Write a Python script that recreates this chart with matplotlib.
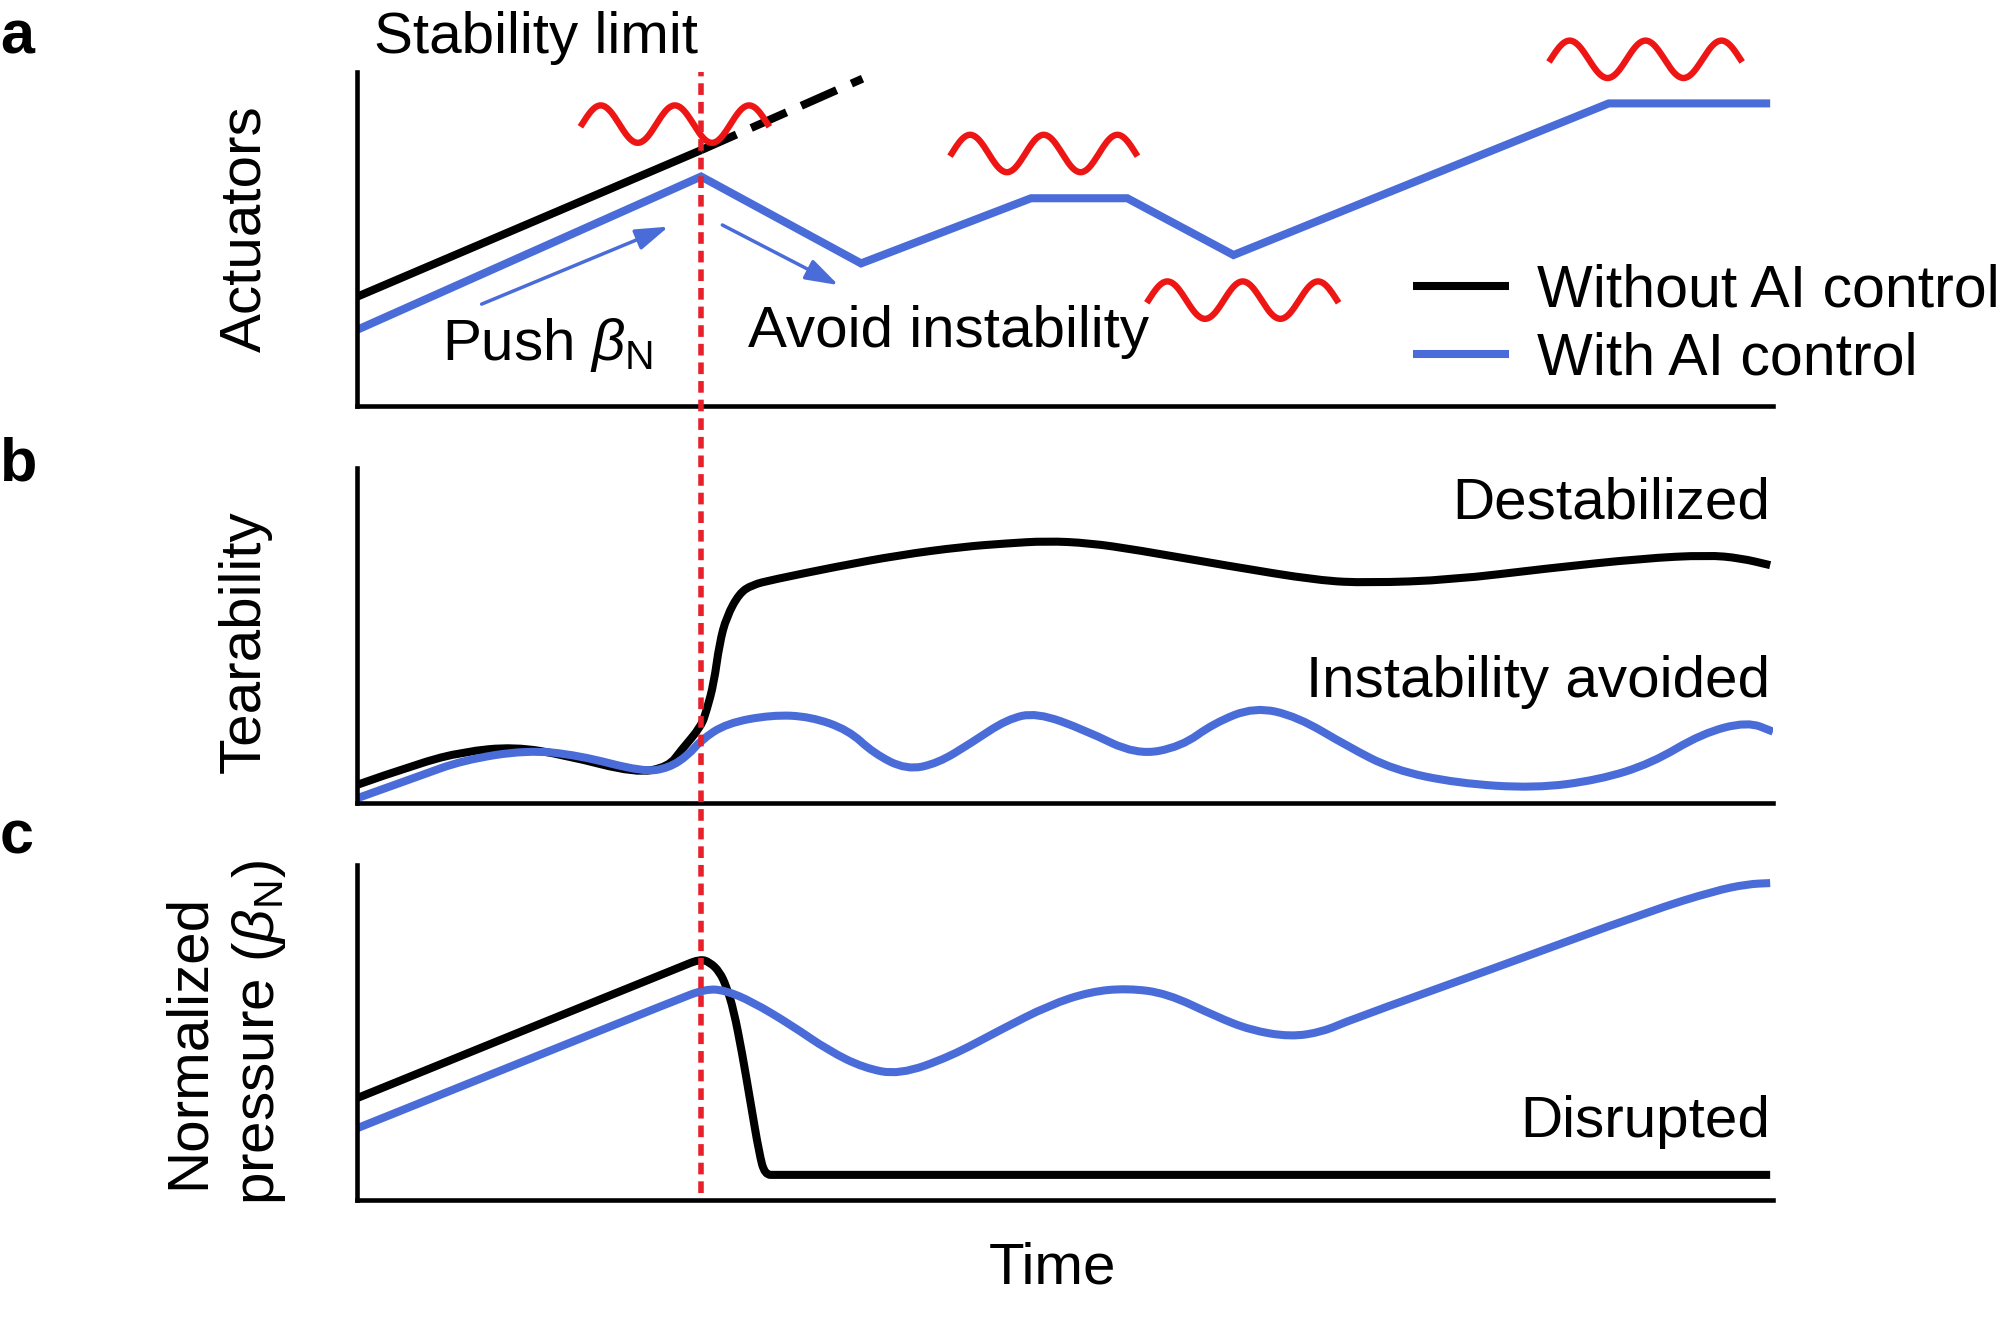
import numpy as np
import matplotlib
matplotlib.use("Agg")
import matplotlib.pyplot as plt
import matplotlib.transforms as mtransforms
from matplotlib.lines import Line2D
from matplotlib.patches import FancyArrowPatch, PathPatch
from matplotlib.path import Path

plt.rcParams["font.family"] = ["Liberation Sans", "DejaVu Sans"]
plt.rcParams["mathtext.fontset"] = "custom"
plt.rcParams["mathtext.rm"] = "Liberation Sans"
plt.rcParams["mathtext.it"] = "Liberation Sans:italic"

# ---- values (time and each panel's y run 0..100) ----
limit_t = 24.3  # stability limit

# a: actuators (piecewise linear)
act_black_t = [0, 24.3]
act_black = [32.7, 76.6]
act_black_dash_t = [24.3, 35.7]
act_black_dash = [76.6, 98.0]
act_blue_t = [0, 24.3, 35.6, 47.6, 54.4, 61.9, 88.4, 99.8]
act_blue = [22.8, 68.7, 42.7, 62.2, 62.2, 45.2, 90.6, 90.6]

# red squiggles marking instabilities: start, end, centre height
wiggle_t0 = [15.9, 42.0, 55.9, 84.3]
wiggle_t1 = [29.0, 55.0, 69.2, 97.7]
wiggle_y = [84.4, 75.6, 31.7, 103.8]

# b: tearability
tear_black_t = [0, 4.3, 7.5, 11.1, 14.7, 19.7, 22.0, 22.9, 24.3, 24.7,
                25.2, 25.6, 26.1, 27.0, 27.9, 29.3, 33.8, 38.3, 42.8, 45.9,
                48.7, 51.7, 55.0, 61.5, 67.9, 71.4, 77.3, 84.0, 90.8, 95.4,
                97.7, 99.8]
tear_black = [5.4, 11.8, 15.3, 16.8, 14.3, 8.9, 10.8, 15.8, 22.8, 27.8,
              35.7, 47.7, 55.6, 62.6, 65.1, 66.6, 70.5, 74.0, 76.5, 77.5,
              78.2, 77.6, 75.6, 70.8, 66.4, 65.7, 66.6, 70.0, 73.0, 74.0,
              73.1, 71.0]
tear_blue_t = [0, 4.3, 7.5, 12.0, 15.6, 20.2, 22.0, 23.4, 24.3, 26.1,
               29.3, 32.0, 34.7, 36.5, 38.8, 41.0, 43.4, 45.9, 48.0, 51.4,
               55.05, 58.2, 60.5, 63.4, 66.4, 70.0, 73.2, 77.7, 83.2, 87.7,
               91.4, 95.0, 98.2, 100]
tear_blue = [1.4, 7.9, 12.8, 15.8, 14.3, 9.3, 10.4, 14.3, 18.8, 23.8,
             26.3, 25.8, 21.8, 14.8, 9.9, 11.8, 18.0, 25.0, 27.0, 21.8,
             14.3, 16.8, 23.8, 28.7, 25.8, 16.8, 9.9, 5.9, 4.4, 6.9,
             11.8, 20.8, 24.3, 21.3]

# c: normalized pressure
press_black_t = [0, 23.0, 24.25, 24.9, 25.6, 26.1, 26.6, 27.2, 27.8, 28.4,
                 28.8, 29.6, 99.8]
press_black = [30.4, 69.9, 71.9, 71.0, 68.2, 63.6, 56.7, 43.8, 28.9, 14.0,
               7.5, 7.5, 7.5]
press_blue_t = [0, 12.0, 22.5, 24.6, 26.0, 27.9, 30.6, 33.3, 35.8, 38.3,
                41.9, 45.4, 48.9, 51.8, 54.4, 57.2, 60.7, 63.1, 65.9, 68.2,
                70.1, 80.0, 91.4, 95.9, 98.2, 99.8]
press_blue = [21.4, 41.8, 59.6, 63.0, 62.6, 59.2, 52.4, 44.6, 39.4, 37.4,
              42.8, 50.7, 58.2, 62.2, 63.2, 61.7, 54.7, 50.7, 48.7, 50.2,
              53.7, 68.7, 86.4, 92.3, 94.3, 94.6]

series_labels = ["Without AI control", "With AI control"]

# ---- style ----
BLUE = "#4a6cd9"
RED = "#ee1515"
FS = 42
LW = 5.8


def smooth(ax, t, y, color):
    # quadratic b-spline through the read points, drawn as one path
    pts = np.column_stack([t, y])
    verts, codes = [pts[0]], [Path.MOVETO]
    for i in range(1, len(pts) - 1):
        verts += [pts[i], (pts[i] + pts[i + 1]) / 2]
        codes += [Path.CURVE3, Path.CURVE3]
    verts.append(pts[-1])
    codes.append(Path.LINETO)
    ax.add_patch(PathPatch(Path(verts, codes), fill=False, edgecolor=color,
                           lw=LW, capstyle="butt", joinstyle="round"))


fig = plt.figure(figsize=(20.16, 13.34), dpi=100)
left, width = 357 / 2016, 1416 / 2016
ax_a = fig.add_axes([left, 1 - 406 / 1334, width, 334 / 1334])
ax_b = fig.add_axes([left, 1 - 803 / 1334, width, 335 / 1334])
ax_c = fig.add_axes([left, 1 - 1200 / 1334, width, 335 / 1334])

for ax in (ax_a, ax_b, ax_c):
    ax.set_xlim(0, 100)
    ax.set_ylim(0, 100)
    ax.set_xticks([])
    ax.set_yticks([])
    for side in ("top", "right"):
        ax.spines[side].set_visible(False)
    for side in ("left", "bottom"):
        ax.spines[side].set_linewidth(3.3)
        ax.spines[side].set_capstyle("projecting")

# panel a
ax_a.plot(act_black_t, act_black, color="black", lw=LW, solid_capstyle="butt")
ax_a.plot(act_black_dash_t, act_black_dash, color="black", lw=LW,
          linestyle=(0, (4.8, 2.0)), dash_capstyle="butt")
ax_a.plot(act_blue_t, act_blue, color=BLUE, lw=LW, solid_capstyle="butt",
          solid_joinstyle="miter")

theta = np.linspace(-0.5 * np.pi, 4.5 * np.pi, 200)  # squiggle glyph
for t0, t1, yc in zip(wiggle_t0, wiggle_t1, wiggle_y):
    xs = t0 + (theta - theta[0]) / (theta[-1] - theta[0]) * (t1 - t0)
    ax_a.plot(xs, yc + 5.6 * np.cos(theta), color=RED, lw=4.6,
              clip_on=False, zorder=5)

arrow = "-|>,head_length=0.8,head_width=0.26"
ax_a.add_patch(FancyArrowPatch((8.8, 30.5), (22.0, 53.7), arrowstyle=arrow,
                               mutation_scale=25, lw=2.5, color=BLUE,
                               shrinkA=0, shrinkB=0))
ax_a.add_patch(FancyArrowPatch((25.8, 54.2), (34.0, 36.2), arrowstyle=arrow,
                               mutation_scale=25, lw=2.5, color=BLUE,
                               shrinkA=0, shrinkB=0))

ax_a.text(24.1, 105.6, "Stability limit", ha="right", va="baseline",
          fontsize=FS, clip_on=False)
ax_a.text(6.0, 13.8, r"Push $\beta_{\mathrm{N}}$", ha="left", va="baseline",
          fontsize=FS)
ax_a.text(27.6, 17.8, "Avoid instability", ha="left", va="baseline",
          fontsize=FS)

handles = [Line2D([], [], color="black", lw=LW, solid_capstyle="butt"),
           Line2D([], [], color=BLUE, lw=LW, solid_capstyle="butt")]
fig.legend(handles, series_labels, loc="center left",
           bbox_to_anchor=(1413 / 2016, 1 - 325 / 1334), frameon=False,
           fontsize=42.5, handlelength=1.62, handletextpad=0.48,
           labelspacing=0.21, borderpad=0, borderaxespad=0)

# panel b
smooth(ax_b, tear_black_t, tear_black, "black")
smooth(ax_b, tear_blue_t, tear_blue, BLUE)
ax_b.text(99.8, 85.0, "Destabilized", ha="right", va="baseline", fontsize=FS)
ax_b.text(99.8, 31.7, "Instability avoided", ha="right", va="baseline",
          fontsize=FS)

# panel c
smooth(ax_c, press_black_t, press_black, "black")
smooth(ax_c, press_blue_t, press_blue, BLUE)
ax_c.text(99.8, 18.9, "Disrupted", ha="right", va="baseline", fontsize=FS)

# stability limit line through all panels
blend = mtransforms.blended_transform_factory(ax_c.transData, fig.transFigure)
fig.add_artist(Line2D([limit_t, limit_t], [1 - 1193 / 1334, 1 - 72 / 1334],
                      transform=blend, color="#e8202a", lw=4.0,
                      linestyle=(0, (2.1, 1.25)), zorder=10))

# axis titles
fig.text(260 / 2016, 1 - 229 / 1334, "Actuators", rotation=90,
         rotation_mode="anchor", ha="center", va="baseline", fontsize=FS)
fig.text(260 / 2016, 1 - 642 / 1334, "Tearability", rotation=90,
         rotation_mode="anchor", ha="center", va="baseline", fontsize=FS)
fig.text(204 / 2016, 1 - 1041 / 1334, "Normalized", rotation=90,
         rotation_mode="anchor", ha="center", va="baseline", fontsize=FS)
fig.text(274 / 2016, 1 - 1033 / 1334, r"pressure ($\beta_{\mathrm{N}}$)",
         rotation=90, rotation_mode="anchor", ha="center", va="baseline",
         fontsize=FS)
fig.text(1053 / 2016, 1 - 1283 / 1334, "Time", ha="center", va="baseline",
         fontsize=FS)

for letter, base in zip("abc", [53, 480, 853]):
    fig.text(0.0, 1 - base / 1334, letter, ha="left", va="baseline",
             fontsize=44, fontweight="bold")

fig.savefig("out.png", dpi=100)
